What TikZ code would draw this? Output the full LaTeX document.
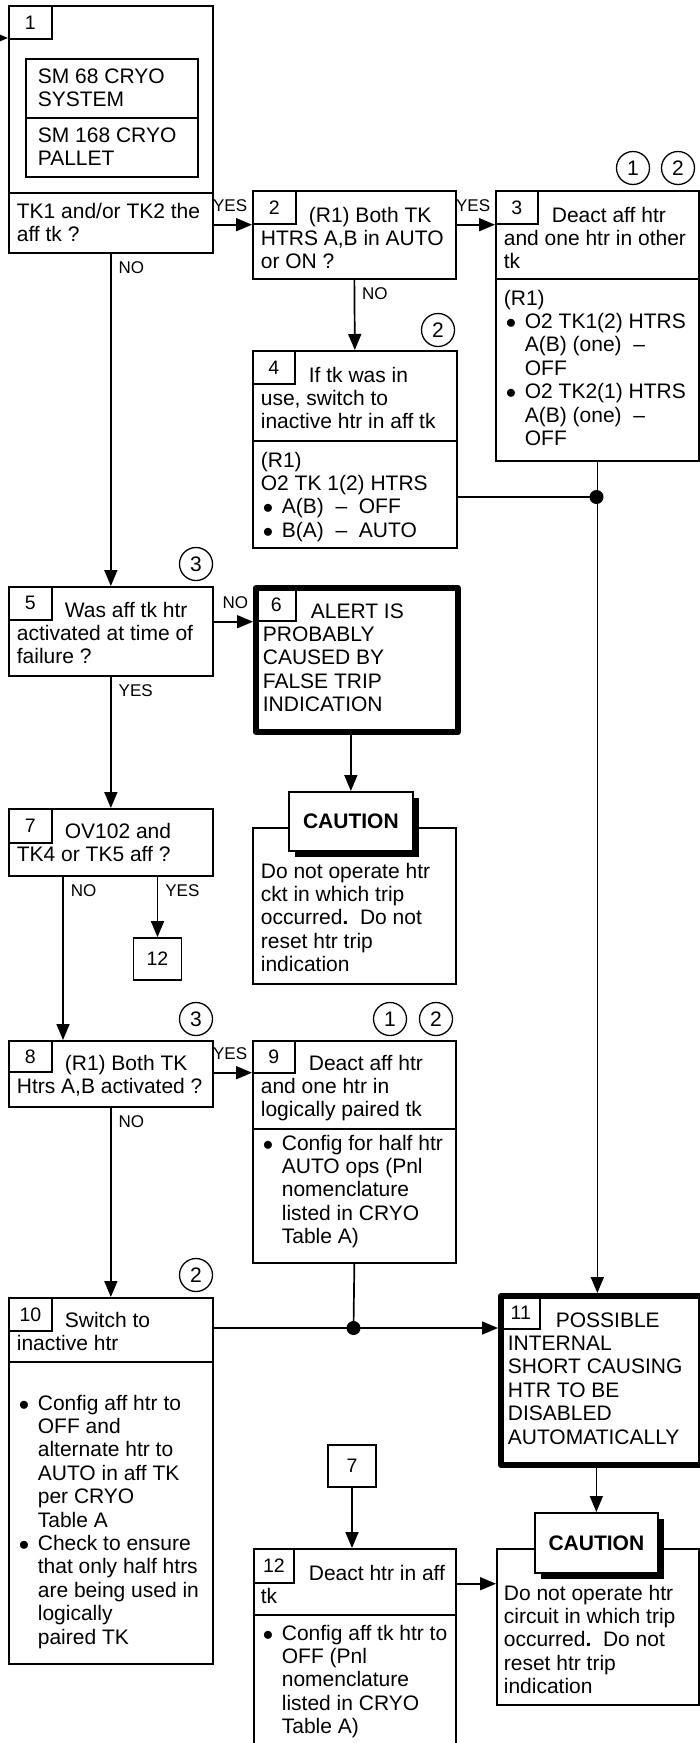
\documentclass[tikz,border=0pt]{standalone}
\usepackage{fontspec}
\setmainfont{Liberation Sans}
\usetikzlibrary{arrows.meta,shadows}
\newcommand{\pasttab}{\hspace*{48pt}}
\newcommand{\tkbul}{\makebox[21pt][l]{\hspace{2pt}$\bullet$}}
\newcommand{\tkind}{\hspace*{21pt}}
\begin{document}
\begin{tikzpicture}[x=1pt, y=-1pt, line width=1.7pt, >={Triangle[length=16pt,width=13pt]},
  box/.style={draw, anchor=north west, inner sep=0pt},
  heavy/.style={box, line width=6pt, line join=round},
  tab/.style={box, minimum width=43pt, minimum height=33pt, font=\fontsize{19.5}{22}\selectfont},
  txt/.style={anchor=base west, align=left, inner sep=0pt, font=\fontsize{21}{23.4}\selectfont},
  note/.style={draw, circle, line width=1.3pt, minimum size=33pt, inner sep=0pt, font=\fontsize{21}{24}\selectfont},
  goto/.style={draw, minimum width=48pt, minimum height=42pt, inner sep=0pt, font=\fontsize{19.5}{22}\selectfont},
  caution/.style={box, fill=white, minimum width=124pt, minimum height=59pt,
    font=\bfseries\fontsize{21}{24}\selectfont,
    drop shadow={shadow xshift=6pt, shadow yshift=-6pt, fill=black, opacity=1}},
  dot/.style={circle, fill, minimum size=14pt, inner sep=0pt},
  lbl/.style={inner sep=0pt, font=\fontsize{17}{20}\selectfont},
  hlbl/.style={lbl, pos=1, anchor=base east, xshift=-4pt, yshift=13pt},
  vlbl/.style={lbl, pos=0, anchor=base west, xshift=7pt, yshift=-20pt}]
\useasboundingbox (0,0) rectangle (699,1743);

% text nodes sit on the baseline of their last line
% 1
\node[box, minimum width=204pt, minimum height=187pt] (b1top) at (8,5) {};
\node[box, minimum width=204pt, minimum height=60pt] (b1) at (8,192) {};
\node[tab] (b1n) at (8,5) {1};
\node[box, minimum width=172pt, minimum height=59pt] (sys) at (25,58) {};
\node[box, minimum width=172pt, minimum height=59pt] (pal) at (25,117) {};
\node[txt] (syst) at (37,106.4) {SM 68 CRYO\\SYSTEM};
\node[txt] (palt) at (37,165.4) {SM 168 CRYO\\PALLET};
\node[txt] (t1) at (16,241.4) {TK1 and/or TK2 the\\aff tk ?};
\coordinate (entry) at (-20,38);

% 2
\node[box, minimum width=203pt, minimum height=88pt] (b2) at (252,190) {};
\node[tab] (b2n) at (252,190) {2};
\node[txt] (t2) at (260,268.8) {\pasttab(R1) Both TK\\HTRS A,B in AUTO\\or ON ?};

% 3
\node[box, minimum width=203pt, minimum height=88pt] (b3) at (495,190) {};
\node[box, minimum width=203pt, minimum height=182pt] (b3x) at (495,278) {};
\node[tab, minimum width=42pt] (b3n) at (495,190) {3};
\node[txt] (t3) at (503,268.8) {\pasttab Deact aff htr\\and one htr in other\\tk};
\node[txt] (t3x) at (503,445.4) {(R1)\\\tkbul O2 TK1(2) HTRS\\\tkind A(B) (one)\ \ –\\\tkind OFF\\\tkbul O2 TK2(1) HTRS\\\tkind A(B) (one)\ \ –\\\tkind OFF};
\node[note] (n3a) at (633,168) {1};
\node[note] (n3b) at (678,168) {2};

% 4
\node[box, minimum width=204pt, minimum height=90pt] (b4) at (252,350) {};
\node[box, minimum width=204pt, minimum height=107pt] (b4x) at (252,440) {};
\node[tab, minimum width=42pt] (b4n) at (252,350) {4};
\node[txt] (t4) at (260,428.8) {\pasttab If tk was in\\use, switch to\\inactive htr in aff tk};
\node[txt] (t4x) at (260,537.2) {(R1)\\O2 TK 1(2) HTRS\\\tkbul A(B)\ \ –\ \ OFF\\\tkbul B(A)\ \ –\ \ AUTO};
\node[note] (n4) at (438,330) {2};
\node[dot] (j1) at (596.5,497) {};

% 5
\node[box, minimum width=204pt, minimum height=89pt] (b5) at (8,586) {};
\node[tab] (b5n) at (8,586) {5};
\node[txt] (t5) at (16,663.8) {\pasttab Was aff tk htr\\activated at time of\\failure ?};
\node[note] (n5) at (196,564) {3};

% 6
\node[heavy, minimum width=202pt, minimum height=144pt] (b6) at (253,585) {};
\node[tab, minimum width=39pt, minimum height=32pt] (b6n) at (256,588) {6};
\node[txt] (t6) at (262,711.6) {\pasttab ALERT IS\\PROBABLY\\CAUSED BY\\FALSE TRIP\\INDICATION};
\node[box, minimum width=203pt, minimum height=156pt] (c1b) at (252,827) {};
\node[caution] (c1t) at (288,791) {CAUTION};
\node[txt] (c1x) at (260,971.6) {Do not operate htr\\ckt in which trip\\occurred{\bfseries .}\ \ Do not\\reset htr trip\\indication};

% 7
\node[box, minimum width=204pt, minimum height=67pt] (b7) at (8,808) {};
\node[tab, minimum height=34pt] (b7n) at (8,808) {7};
\node[txt] (t7) at (16,861.4) {\pasttab OV102 and\\TK4 or TK5 aff ?};
\node[goto] (g12) at (157.5,959) {12};

% 8
\node[box, minimum width=204pt, minimum height=66pt] (b8) at (8,1040) {};
\node[tab, minimum height=31pt] (b8n) at (8,1040) {8};
\node[txt] (t8) at (16,1093.4) {\pasttab (R1) Both TK\\Htrs A,B activated ?};
\node[note] (n8) at (196,1019) {3};

% 9
\node[box, minimum width=203pt, minimum height=88pt] (b9) at (252,1040) {};
\node[box, minimum width=203pt, minimum height=134pt] (b9x) at (252,1128) {};
\node[tab, minimum width=42pt, minimum height=32pt] (b9n) at (252,1040) {9};
\node[txt] (t9) at (260,1116.8) {\pasttab Deact aff htr\\and one htr in\\logically paired tk};
\node[txt] (t9x) at (260,1243.6) {\tkbul Config for half htr\\\tkind AUTO ops (Pnl\\\tkind nomenclature\\\tkind listed in CRYO\\\tkind Table A)};
\node[note] (n9a) at (390,1019) {1};
\node[note] (n9b) at (436,1019) {2};

% 10
\node[box, minimum width=204pt, minimum height=64pt] (b10) at (8,1297) {};
\node[box, minimum width=204pt, minimum height=302pt] (b10x) at (8,1361) {};
\node[tab] (b10n) at (8,1297) {10};
\node[txt] (t10) at (16,1350.4) {\pasttab Switch to\\inactive htr};
\node[txt] (t10x) at (16,1644) {\tkbul Config aff htr to\\\tkind OFF and\\\tkind alternate htr to\\\tkind AUTO in aff TK\\\tkind per CRYO\\\tkind Table A\\\tkbul Check to ensure\\\tkind that only half htrs\\\tkind are being used in\\\tkind logically\\\tkind paired TK};
\node[note] (n10) at (196,1275) {2};
\node[dot] (j2) at (353.5,1328) {};

% 11
\node[heavy, minimum width=200pt, minimum height=169pt] (b11) at (498,1293) {};
\node[tab, minimum width=38pt, minimum height=32pt] (b11n) at (501,1296) {11};
\node[txt] (t11) at (507,1444) {\pasttab POSSIBLE\\INTERNAL\\SHORT CAUSING\\HTR TO BE\\DISABLED\\AUTOMATICALLY};
\node[box, minimum width=202pt, minimum height=156pt] (c2b) at (496,1548) {};
\node[caution, minimum width=123pt, minimum height=60pt] (c2t) at (534,1512) {CAUTION};
\node[txt] (c2x) at (503,1693.6) {Do not operate htr\\circuit in which trip\\occurred{\bfseries .}\ \ Do not\\reset htr trip\\indication};

% 12
\node[goto] (g7) at (352,1466) {7};
\node[box, minimum width=202pt, minimum height=66pt] (b12) at (253,1548) {};
\node[box, minimum width=202pt, minimum height=150pt] (b12x) at (253,1614) {};
\node[tab, minimum width=40pt, minimum height=34pt] (b12n) at (253,1548) {12};
\node[txt] (t12) at (260,1603.4) {\pasttab Deact htr in aff\\tk};
\node[txt] (t12x) at (260,1733.6) {\tkbul Config aff tk htr to\\\tkind OFF (Pnl\\\tkind nomenclature\\\tkind listed in CRYO\\\tkind Table A)};

\draw[->] (entry) -- (entry -| b1top.west);
\draw[->] (b2n.south -| b1.east) -- node[hlbl] (yes12) {YES} (b2n.south -| b2.west);
\draw[->] (b3n.south -| b2.east) -- node[hlbl] (yes23) {YES} (b3n.south -| b3.west);
\draw[->] (b2.south) -- node[vlbl] (no24) {NO} (b4.north);
\draw (b4x.east |- j1) -- (j1.center);
\draw[->] (b3x.south) -- (b3x.south |- b11.north);
\draw[->] (b1.south) -- node[vlbl] (no15) {NO} (b5.north);
\draw[->] (b6n.south -| b5.east) -- node[hlbl] (no56) {NO} (b6n.south -| b6.west);
\draw[->] (c1t.north |- b6.south) -- (c1t.north);
\draw[->] (b5.south) -- node[vlbl] (yes57) {YES} (b7.north);
\draw[->] ([xshift=55pt]b7.south west) -- node[vlbl] (no78) {NO} ([xshift=55pt]b8.north west);
\draw[->] (b7.south -| g12.north) -- node[vlbl] (yes7g) {YES} (g12.north);
\draw[->] (b8n.south -| b8.east) -- node[hlbl] (yes89) {YES} (b8n.south -| b9.west);
\draw[->] (b8.south) -- node[vlbl] (no810) {NO} (b10.north);
\draw (b9x.south) -- (j2.center);
\draw[->] (b10.east |- j2) -- (b11.west |- j2);
\draw[->] (c2t.north |- b11.south) -- (c2t.north);
\draw[->] (g7.south) -- (g7.south |- b12.north);
\draw[->] (b12n.south -| b12.east) -- (b12n.south -| c2b.west);
\end{tikzpicture}
\end{document}
